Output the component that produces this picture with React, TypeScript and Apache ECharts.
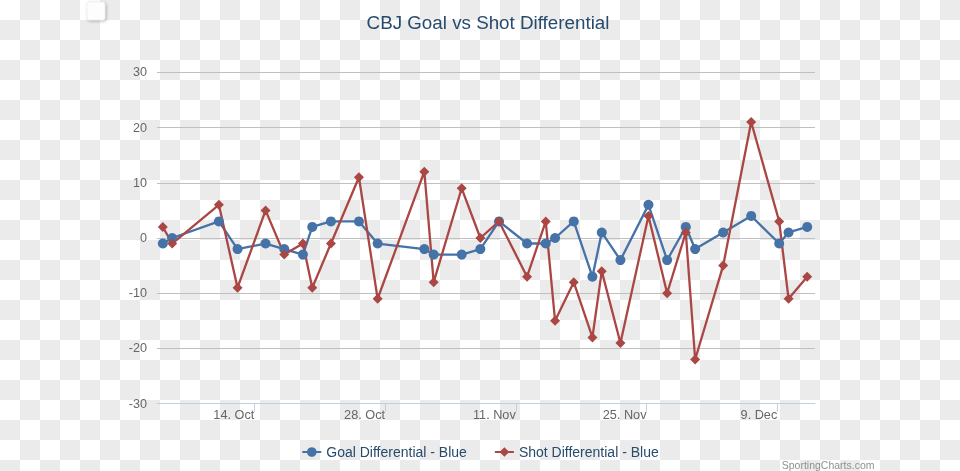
import React, { useEffect, useRef } from 'react';
import * as echarts from 'echarts';

// ---- Data ----
const gameDates = [
  '2013-10-04', '2013-10-05', '2013-10-10', '2013-10-12', '2013-10-15', '2013-10-17',
  '2013-10-19', '2013-10-20', '2013-10-22', '2013-10-25', '2013-10-27', '2013-11-01',
  '2013-11-02', '2013-11-05', '2013-11-07', '2013-11-09', '2013-11-12', '2013-11-14',
  '2013-11-15', '2013-11-17', '2013-11-19', '2013-11-20', '2013-11-22', '2013-11-25',
  '2013-11-27', '2013-11-29', '2013-11-30', '2013-12-03', '2013-12-06', '2013-12-09',
  '2013-12-10', '2013-12-12',
];
const goalDiff = [
  -1, 0, 3, -2, -1, -2, -3, 2, 3, 3, -1, -2, -3, -3, -2, 3,
  -1, -1, 0, 3, -7, 1, -4, 6, -4, 2, -2, 1, 4, -1, 1, 2,
];
const shotDiff = [
  2, -1, 6, -9, 5, -3, -1, -9, -1, 11, -11, 12, -8, 9, 0, 3,
  -7, 3, -15, -8, -18, -6, -19, 4, -10, 1, -22, -5, 21, 3, -11, -7,
];
const xTickDates = ['2013-10-14', '2013-10-28', '2013-11-11', '2013-11-25', '2013-12-09'];
const monthNames = ['Jan', 'Feb', 'Mar', 'Apr', 'May', 'Jun', 'Jul', 'Aug', 'Sep', 'Oct', 'Nov', 'Dec'];
const seriesNames = ['Goal Differential - Blue', 'Shot Differential - Blue'];
const titleText = 'CBJ Goal vs Shot Differential';
const creditText = 'SportingCharts.com';
const yMin = -30;
const yMax = 30;
const yStep = 10;
const xRangeStart = '2013-10-03T14:00:00Z';
const xRangeEnd = '2013-12-13T01:00:00Z';

// game dates are Eastern-time midnights, plotted in UTC
const toTs = (d: string) => Date.parse(d + 'T05:00:00Z');
const tickTs = (d: string) => Date.parse(d + 'T00:00:00Z');

const FONT = '"Liberation Sans", Arial, Helvetica, sans-serif';

function makeChecker(): HTMLCanvasElement {
  const c = document.createElement('canvas');
  c.width = 40;
  c.height = 40;
  const ctx = c.getContext('2d');
  if (ctx) {
    ctx.fillStyle = '#ffffff';
    ctx.fillRect(0, 0, 40, 40);
    ctx.fillStyle = '#ebebeb';
    ctx.fillRect(20, 0, 20, 20);
    ctx.fillRect(0, 20, 20, 20);
  }
  return c;
}

export default function App() {
  const ref = useRef<HTMLDivElement>(null);

  useEffect(() => {
    if (!ref.current) return;
    const chart = echarts.init(ref.current, undefined, { renderer: 'svg' });
    const ticks = xTickDates.map(tickTs);

    chart.setOption({
      animation: false,
      backgroundColor: { image: makeChecker(), repeat: 'repeat' },
      title: {
        text: titleText,
        left: 488,
        top: 13,
        padding: 0,
        textAlign: 'center',
        textStyle: { color: '#274b6d', fontSize: 18.8, fontWeight: 'normal', fontFamily: FONT },
      },
      legend: {
        left: 'center',
        top: 440,
        itemWidth: 19,
        itemHeight: 12,
        itemGap: 27,
        textStyle: { color: '#274b6d', fontSize: 14, fontFamily: FONT },
        data: seriesNames,
      },
      grid: { left: 157, right: 145, top: 72.3, bottom: 67.3, containLabel: false },
      xAxis: {
        type: 'value',
        min: Date.parse(xRangeStart),
        max: Date.parse(xRangeEnd),
        scale: true,
        splitLine: { show: false },
        axisLine: { show: true, onZero: false, lineStyle: { color: '#C0D0E0', width: 1 } },
        axisTick: {
          show: true,
          length: 8,
          customValues: ticks,
          lineStyle: { color: '#C0D0E0', width: 1 },
        },
        axisLabel: {
          customValues: ticks,
          align: 'right',
          margin: 5,
          color: '#666666',
          fontSize: 12.7,
          fontFamily: FONT,
          formatter: (v: number) => {
            const d = new Date(v);
            return `${d.getUTCDate()}. ${monthNames[d.getUTCMonth()]}`;
          },
        },
      },
      yAxis: {
        type: 'value',
        min: yMin,
        max: yMax,
        interval: yStep,
        axisLine: { show: false },
        axisTick: { show: false },
        splitLine: { show: true, lineStyle: { color: '#C0C0C0', width: 1 } },
        axisLabel: { color: '#666666', fontSize: 12.6, fontFamily: FONT, margin: 10 },
      },
      series: [
        {
          name: seriesNames[0],
          type: 'line',
          data: gameDates.map((d, i) => [toTs(d), goalDiff[i]]),
          symbol: 'circle',
          symbolSize: 10,
          showSymbol: true,
          lineStyle: { color: '#4572A7', width: 2.3 },
          itemStyle: { color: '#4572A7' },
        },
        {
          name: seriesNames[1],
          type: 'line',
          data: gameDates.map((d, i) => [toTs(d), shotDiff[i]]),
          symbol: 'diamond',
          symbolSize: 10,
          showSymbol: true,
          lineStyle: { color: '#AA4643', width: 2.3 },
          itemStyle: { color: '#AA4643' },
        },
      ],
      graphic: [
        {
          type: 'rect',
          shape: { x: 87, y: 2, width: 18, height: 18, r: 2 },
          style: {
            fill: '#fdfdfd',
            stroke: '#e4e4e4',
            lineWidth: 0.5,
            shadowBlur: 3,
            shadowOffsetX: 1,
            shadowOffsetY: 1,
            shadowColor: 'rgba(0,0,0,0.3)',
          },
        },
        {
          type: 'text',
          x: 874.5,
          y: 465,
          style: {
            text: creditText,
            align: 'right',
            verticalAlign: 'middle',
            fill: '#909090',
            fontSize: 10.5,
            fontFamily: FONT,
          },
        },
      ],
    });

    return () => chart.dispose();
  }, []);

  return (
    <div
      ref={ref}
      style={{ position: 'fixed', left: 0, top: 0, width: 960, height: 471 }}
    />
  );
}
